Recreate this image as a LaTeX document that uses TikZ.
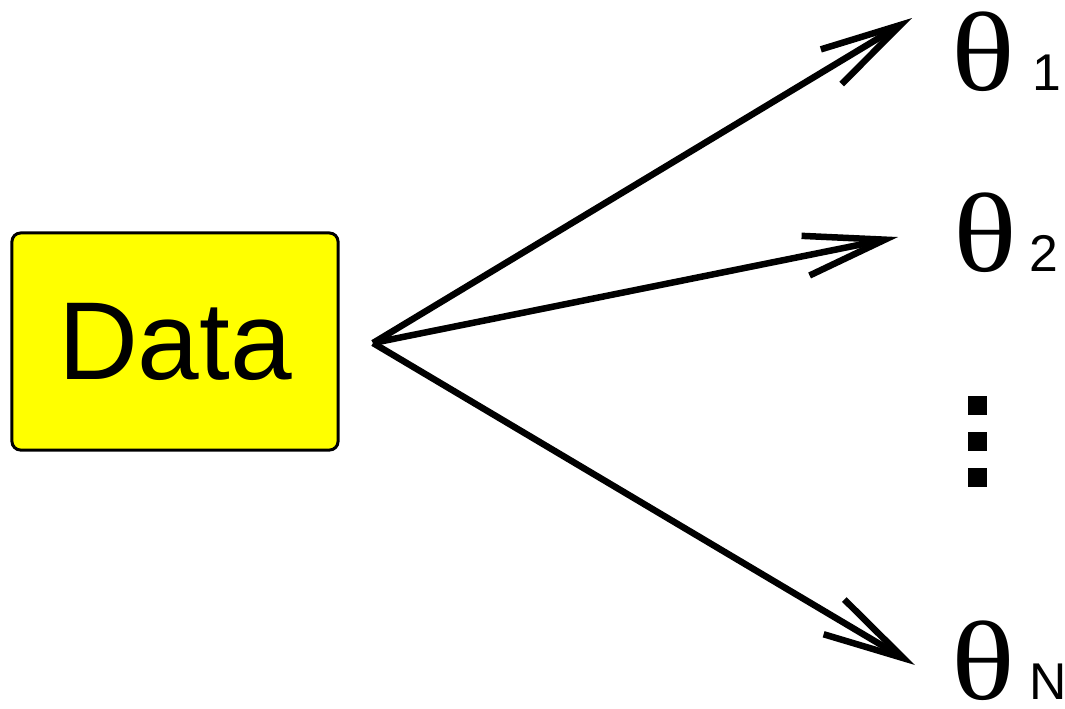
\documentclass[tikz,border=0pt]{standalone}
\usepackage{fontspec}
\setmainfont{Liberation Sans}
\newfontfamily\thetafont{Liberation Serif}
\usetikzlibrary{arrows.meta}
\definecolor{datayellow}{RGB}{255,255,0}
\newcommand{\thetasym}{{\thetafont\fontsize{32pt}{36pt}\selectfont\scalebox{1.18}[1]{θ}}}
\newcommand{\subtxt}[1]{{\fontsize{14.7pt}{16pt}\selectfont #1}}
\begin{document}
\begin{tikzpicture}[x=0.01cm,y=-0.01cm,
  databox/.style={draw=black,line width=0.85pt,fill=datayellow,rounded corners=2.5pt,
    minimum width=3.26cm,minimum height=2.17cm,inner sep=0pt},
  conn/.style={line width=1.85pt,-{Straight Barb[length=23pt,width=11.5pt,line width=1.85pt]}},
  thetalabel/.style={anchor=base west,inner sep=0pt},
  dotsq/.style={fill=black,minimum size=0.19cm,inner sep=0pt}]
\useasboundingbox (0,0) rectangle (1065,708);
\node[databox] (data) at (175,341.5) {\fontsize{31.5pt}{36pt}\selectfont Data};
\coordinate (src) at (373,343);
\coordinate (t1) at (912,18);
\coordinate (t2) at (898,237);
\coordinate (tN) at (915,665);
\node[thetalabel] (th1) at (951,90) {\thetasym\kern 5pt\subtxt{1}};
\node[thetalabel] (th2) at (953,271) {\thetasym\kern 3.5pt\subtxt{2}};
\node[thetalabel] (thN) at (951,699) {\thetasym\kern 4pt\subtxt{N}};
\node[dotsq] (d1) at (977.5,405) {};
\node[dotsq] (d2) at (977.5,441.5) {};
\node[dotsq] (d3) at (977.5,477) {};
\draw[conn] (src) -- (t1);
\draw[conn] (src) -- (t2);
\draw[conn] (src) -- (tN);
\end{tikzpicture}
\end{document}
